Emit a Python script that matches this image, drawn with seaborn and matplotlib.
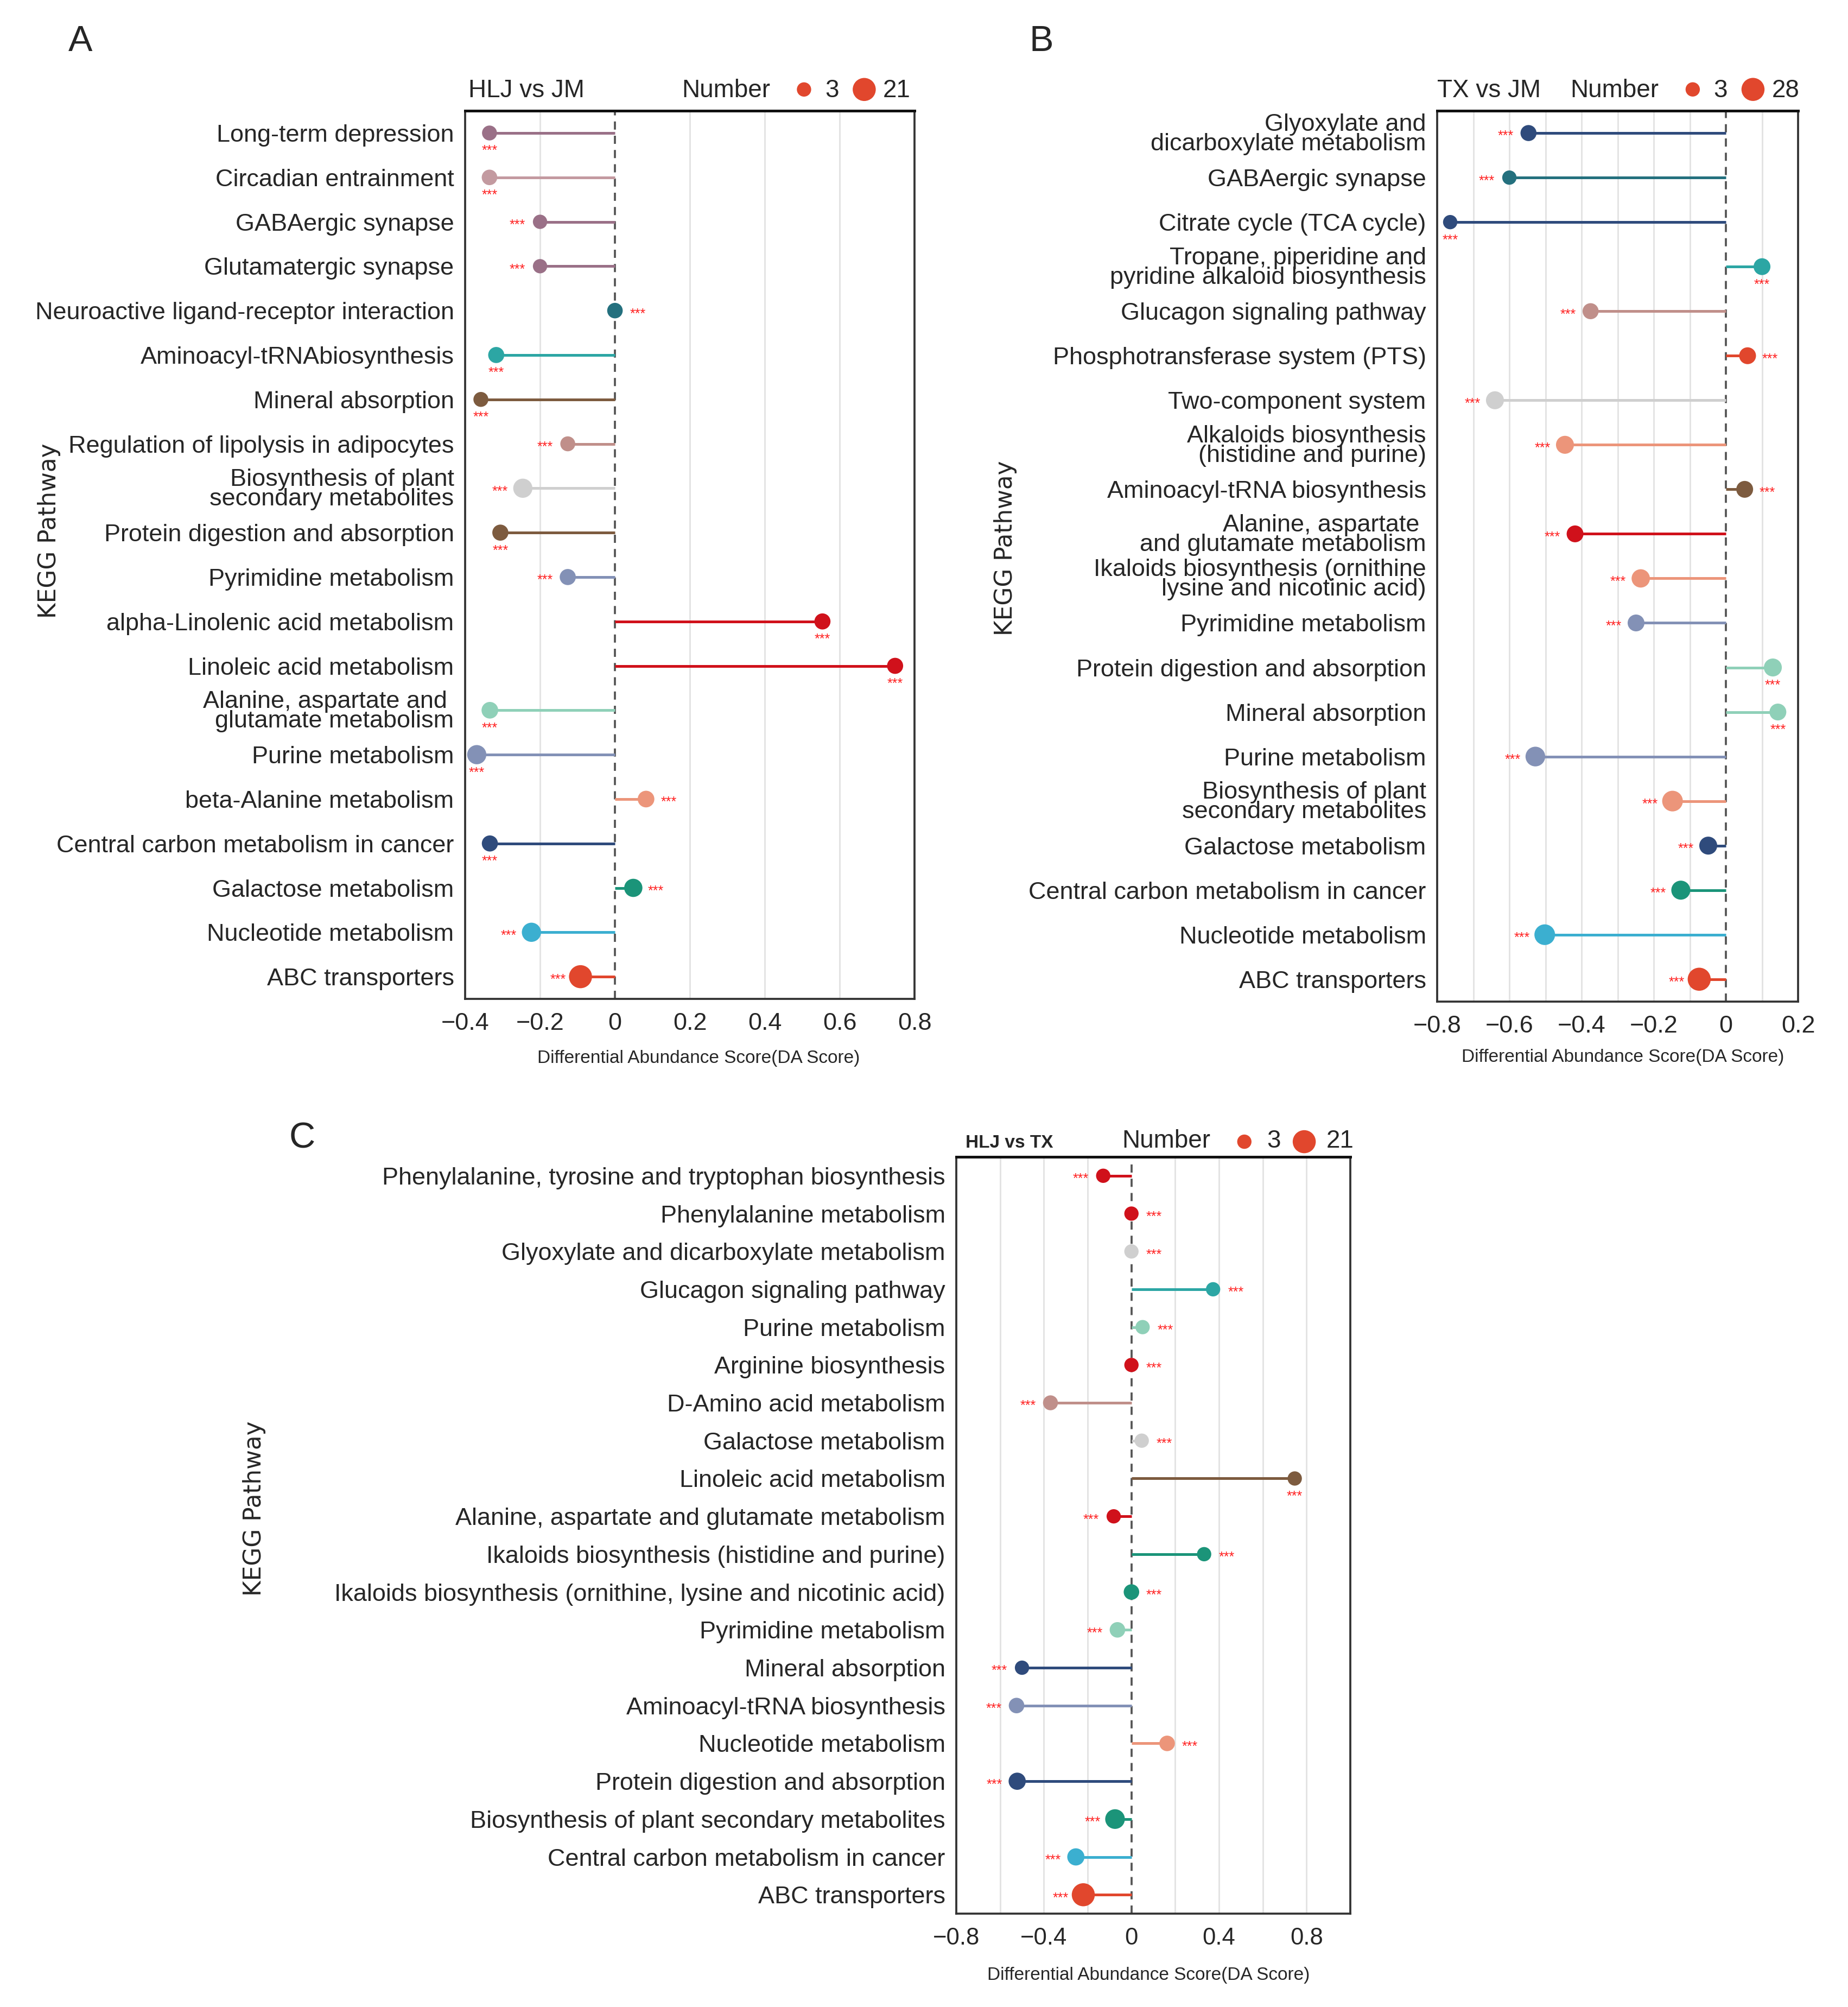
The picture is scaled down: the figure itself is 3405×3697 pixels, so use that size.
import matplotlib
matplotlib.use("Agg")
import matplotlib.pyplot as plt
from matplotlib.ticker import FixedLocator, FuncFormatter
import numpy as np
import pandas as pd
import seaborn as sns

# colours used in the three panels
MAUVE = "#9a7087"
PINK = "#c39aa0"
DTEAL = "#24707e"
TEAL = "#2ca6a4"
BROWN = "#7d5b3f"
ROSE = "#c08f8a"
GREY = "#cfcfcf"
SLATE = "#8391b6"
RED = "#d0111b"
MINT = "#8fd0b8"
SALMON = "#ec957a"
NAVY = "#2f4b7c"
GREEN = "#1b9479"
SKY = "#3bafd0"
ORANGE = "#e1472d"

# ---- A: HLJ vs JM
path_a = ["Long-term depression", "Circadian entrainment", "GABAergic synapse",
          "Glutamatergic synapse", "Neuroactive ligand-receptor interaction",
          "Aminoacyl-tRNAbiosynthesis", "Mineral absorption",
          "Regulation of lipolysis in adipocytes",
          "Biosynthesis of plant\nsecondary metabolites",
          "Protein digestion and absorption", "Pyrimidine metabolism",
          "alpha-Linolenic acid metabolism", "Linoleic acid metabolism",
          "Alanine, aspartate and \nglutamate metabolism", "Purine metabolism",
          "beta-Alanine metabolism", "Central carbon metabolism in cancer",
          "Galactose metabolism", "Nucleotide metabolism", "ABC transporters"]
score_a = [-0.335, -0.335, -0.20, -0.20, 0.0, -0.317, -0.358, -0.126, -0.246, -0.306,
           -0.126, 0.554, 0.748, -0.334, -0.369, 0.083, -0.334, 0.049, -0.223, -0.092]
count_a = [4, 5, 3, 3, 5, 6, 4, 4, 12, 6, 6, 6, 6, 7, 12, 7, 6, 10, 12, 21]
col_a = [MAUVE, PINK, MAUVE, MAUVE, DTEAL, TEAL, BROWN, ROSE, GREY, BROWN,
         SLATE, RED, RED, MINT, SLATE, SALMON, NAVY, GREEN, SKY, ORANGE]
star_a = ["b", "b", "l", "l", "r", "b", "b", "l", "l", "b",
          "l", "b", "b", "b", "b", "r", "b", "r", "l", "l"]

# ---- B: TX vs JM
path_b = ["Glyoxylate and\ndicarboxylate metabolism", "GABAergic synapse",
          "Citrate cycle (TCA cycle)",
          "Tropane, piperidine and\npyridine alkaloid biosynthesis",
          "Glucagon signaling pathway", "Phosphotransferase system (PTS)",
          "Two-component system", "Alkaloids biosynthesis\n(histidine and purine)",
          "Aminoacyl-tRNA biosynthesis",
          "Alanine, aspartate \nand glutamate metabolism",
          "Ikaloids biosynthesis (ornithine\nlysine and nicotinic acid)",
          "Pyrimidine metabolism", "Protein digestion and absorption",
          "Mineral absorption", "Purine metabolism",
          "Biosynthesis of plant\nsecondary metabolites", "Galactose metabolism",
          "Central carbon metabolism in cancer", "Nucleotide metabolism",
          "ABC transporters"]
score_b = [-0.547, -0.60, -0.764, 0.10, -0.375, 0.06, -0.64, -0.446, 0.052, -0.418,
           -0.236, -0.249, 0.13, 0.144, -0.528, -0.148, -0.049, -0.125, -0.502, -0.074]
count_b = [7, 3, 3, 9, 7, 9, 12, 12, 9, 9, 13, 9, 12, 9, 17, 20, 12, 15, 20, 28]
col_b = [NAVY, DTEAL, NAVY, TEAL, ROSE, ORANGE, GREY, SALMON, BROWN, RED,
         SALMON, SLATE, MINT, MINT, SLATE, SALMON, NAVY, GREEN, SKY, ORANGE]
star_b = ["l", "l", "b", "b", "l", "r", "l", "l", "r", "l",
          "l", "l", "b", "b", "l", "l", "l", "l", "l", "l"]

# ---- C: HLJ vs TX
path_c = ["Phenylalanine, tyrosine and tryptophan biosynthesis",
          "Phenylalanine metabolism", "Glyoxylate and dicarboxylate metabolism",
          "Glucagon signaling pathway", "Purine metabolism", "Arginine biosynthesis",
          "D-Amino acid metabolism", "Galactose metabolism", "Linoleic acid metabolism",
          "Alanine, aspartate and glutamate metabolism",
          "Ikaloids biosynthesis (histidine and purine)",
          "Ikaloids biosynthesis (ornithine, lysine and nicotinic acid)",
          "Pyrimidine metabolism", "Mineral absorption", "Aminoacyl-tRNA biosynthesis",
          "Nucleotide metabolism", "Protein digestion and absorption",
          "Biosynthesis of plant secondary metabolites",
          "Central carbon metabolism in cancer", "ABC transporters"]
score_c = [-0.129, 0.0, 0.0, 0.373, 0.051, 0.0, -0.37, 0.047, 0.746, -0.081,
           0.332, 0.0, -0.064, -0.50, -0.525, 0.163, -0.522, -0.075, -0.254, -0.22]
count_c = [3, 3, 3, 3, 3, 3, 4, 3, 3, 3, 3, 5, 5, 3, 5, 5, 8, 13, 8, 21]
col_c = [RED, RED, GREY, TEAL, MINT, RED, ROSE, GREY, BROWN, RED,
         GREEN, GREEN, MINT, NAVY, SLATE, SALMON, NAVY, GREEN, SKY, ORANGE]
star_c = ["l", "r", "r", "r", "r", "r", "l", "r", "b", "l",
          "r", "r", "l", "l", "l", "r", "l", "l", "l", "l"]

SMIN, SMAX = 40, 104


def fmt(v, pos):
    if abs(v) < 1e-9:
        return "0"
    return f"{v:g}".replace("-", "\u2212")


def dot_size(c, nmax):
    return SMIN + (c - 3) / (nmax - 3) * (SMAX - SMIN)


def draw_panel(ax, names, scores, counts, colors, stars, nmax,
               xlim, major, minor):
    n = len(names)
    df = pd.DataFrame({"pathway": names, "score": scores, "number": counts,
                       "pos": np.arange(n)})
    ax.axvline(0, color="#555555", ls=(0, (4, 3)), lw=0.9, zorder=1)
    ax.hlines(df["pos"], 0, df["score"], colors=colors, lw=1.2, zorder=2)
    sns.scatterplot(data=df, x="score", y="pos", hue="pathway",
                    palette=dict(zip(names, colors)), size="number",
                    sizes=(SMIN, SMAX), size_norm=(3, nmax), legend=False,
                    edgecolor="none", linewidth=0, ax=ax, zorder=3)
    offs = {"b": (0, -8), "l": (-10, -1.5), "r": (10, -1.5)}
    for s, p, st in zip(df["score"], df["pos"], stars):
        ax.annotate("***", xy=(s, p), xytext=offs[st], textcoords="offset points",
                    ha="center", va="center", color="#ff2020", fontsize=6)

    ax.set_ylim(n - 0.5, -0.5)
    ax.set_yticks(df["pos"])
    ax.set_yticklabels(names, fontsize=10.8)
    for lbl in ax.get_yticklabels():
        lbl.set_linespacing(0.85)
    ax.set_xlim(*xlim)
    ax.xaxis.set_major_locator(FixedLocator(major))
    ax.xaxis.set_minor_locator(FixedLocator(minor))
    ax.xaxis.set_major_formatter(FuncFormatter(fmt))
    ax.tick_params(axis="x", which="major", labelsize=10.8, length=4, width=0.8,
                   color="#333333", pad=2)
    ax.tick_params(axis="x", which="minor", length=0)
    ax.tick_params(axis="y", length=3.4, width=0.8, color="#333333", pad=1.5)
    ax.grid(False)
    for v in minor:
        if abs(v) > 1e-9:
            ax.axvline(v, color="#e3e3e3", lw=0.7, zorder=0)
    for sp in ax.spines.values():
        sp.set_visible(True)
        sp.set_color("#333333")
        sp.set_linewidth(0.9)
    ax.spines["top"].set_color("#111111")
    ax.spines["top"].set_linewidth(1.2)

    ax.set_xlabel("Differential Abundance Score(DA Score)", fontsize=8)
    ax.set_ylabel("KEGG Pathway", fontsize=10.5, family=["DejaVu Sans"])


def header(ax, title, nmax, title_x, number_x, xs, base_y, dot_y, title_kw):
    ax.text(title_x, base_y, title, transform=ax.transAxes,
            va="baseline", ha="left", **title_kw)
    ax.text(number_x, base_y, "Number", transform=ax.transAxes,
            va="baseline", ha="left", fontsize=11)
    for c, dx, tx in zip((3, nmax), xs[0::2], xs[1::2]):
        ax.scatter([dx], [dot_y], s=dot_size(c, nmax), color=ORANGE,
                   edgecolor="none", transform=ax.transAxes, clip_on=False)
        ax.text(tx, base_y, str(c), transform=ax.transAxes,
                va="baseline", ha="left", fontsize=11)


sns.set_style("white")
plt.rcParams["font.family"] = ["Liberation Sans", "DejaVu Sans"]

fig = plt.figure(figsize=(3405 / 300, 3697 / 300), dpi=300)
ax_a = fig.add_axes([0.2517, 0.5023, 0.2432, 0.4425])
ax_b = fig.add_axes([0.7777, 0.5010, 0.1953, 0.4438])
ax_c = fig.add_axes([0.5175, 0.0465, 0.2132, 0.3771])

draw_panel(ax_a, path_a, score_a, count_a, col_a, star_a, 21,
           (-0.4, 0.8), np.arange(-0.4, 0.81, 0.2), np.arange(-0.4, 0.81, 0.2))
draw_panel(ax_b, path_b, score_b, count_b, col_b, star_b, 28,
           (-0.8, 0.2), np.arange(-0.8, 0.21, 0.2), np.arange(-0.8, 0.21, 0.1))
draw_panel(ax_c, path_c, score_c, count_c, col_c, star_c, 21,
           (-0.8, 1.0), np.arange(-0.8, 0.81, 0.4), np.arange(-0.8, 0.81, 0.2))
ax_c.tick_params(axis="x", which="major", labelsize=10.5)

header(ax_a, "HLJ vs JM", 21, 0.007, 0.482, (0.754, 0.801, 0.888, 0.930),
       1.0153, 1.024, dict(fontsize=11))
header(ax_b, "TX vs JM", 28, 0.0, 0.368, (0.708, 0.765, 0.875, 0.928),
       1.0153, 1.024, dict(fontsize=11))
header(ax_c, "HLJ vs TX", 21, 0.023, 0.42, (0.731, 0.788, 0.883, 0.939),
       1.012, 1.020, dict(fontsize=8, fontweight="bold"))

ax_a.yaxis.set_label_coords(-0.90, 0.527)
ax_b.yaxis.set_label_coords(-1.164, 0.509)
ax_c.yaxis.set_label_coords(-1.753, 0.535)
ax_a.xaxis.set_label_coords(0.519, -0.0575)
ax_b.xaxis.set_label_coords(0.514, -0.053)
ax_c.xaxis.set_label_coords(0.488, -0.070)

fig.text(0.037, 0.9746, "A", fontsize=16, va="baseline")
fig.text(0.557, 0.9746, "B", fontsize=16, va="baseline")
fig.text(0.1565, 0.428, "C", fontsize=16, va="baseline")

fig.savefig("out.png", dpi=300)
